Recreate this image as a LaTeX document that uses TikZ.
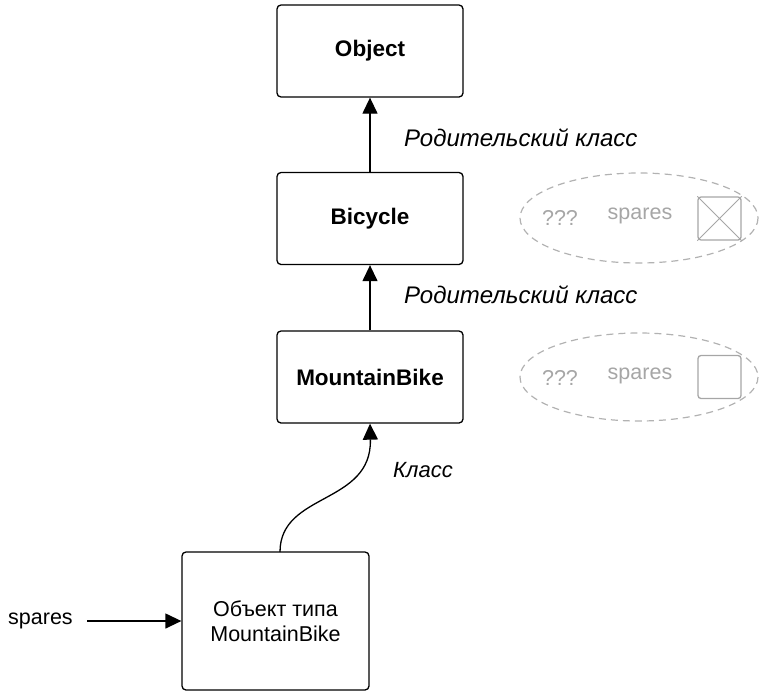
\documentclass[tikz,border=0pt]{standalone}
\usepackage{fontspec}
\setmainfont{Liberation Sans}
\usetikzlibrary{arrows.meta}
\begin{document}
\begin{tikzpicture}[x=1pt,y=-1pt,
  font=\fontsize{21.5}{25}\selectfont,
  classbox/.style={draw, line width=1.3pt, rounded corners=4pt, minimum width=186pt, minimum height=92pt, inner sep=0pt, align=center},
  title/.style={font=\fontsize{22.5}{26}\selectfont\bfseries},
  link/.style={line width=1.3pt, -{Triangle[length=16pt,width=15pt]}},
  lbl/.style={font=\fontsize{24}{28}\selectfont\itshape, anchor=west, inner sep=0pt},
  ghost/.style={draw=black!30, dashed, dash pattern=on 7pt off 5pt, line width=1.2pt},
  ghosttext/.style={text=black!35, inner sep=0pt},
  slot/.style={draw=black!35, line width=1.3pt, rounded corners=3pt, minimum width=43pt, minimum height=43pt, inner sep=0pt}]
\useasboundingbox (0,0) rectangle (759,694);

% class hierarchy
\node[classbox, title] (obj) at (370,51) {Object};
\node[classbox, title] (bike) at (370,218.5) {Bicycle};
\node[classbox, title] (mtb) at (370,377) {MountainBike};
\node[classbox, minimum width=187pt, minimum height=138pt] (inst) at (275.5,621) {Объект типа\\MountainBike};

% inheritance links
\draw[link] (bike.north) -- (obj.south);
\draw[link] (mtb.north) -- (bike.south);
\coordinate (instTop) at (280,552);
\draw[link] (instTop) .. controls (280,492) and (372,505) .. (mtb.south);

\node[lbl] (lbl1) at (404,138) {Родительский класс};
\node[lbl] (lbl2) at (404,295) {Родительский класс};
\node[lbl, font=\fontsize{22}{26}\selectfont\itshape] (lbl3) at (393,470) {Класс};

% reference from a variable
\node[anchor=west, inner sep=0pt] (var) at (8,621) {spares};
\coordinate (varEnd) at (87,621);
\draw[link] (varEnd) -- (inst.west);

% fields (dashed)
\draw[ghost] (639,218) ellipse [x radius=119, y radius=45];
\node[ghosttext] (q1) at (560,218) {???};
\node[ghosttext] (s1) at (640,216) {spares};
\node[slot] (box1) at (719.5,218.5) {};
\draw[black!35, line width=1pt] (box1.north west) -- (box1.south east)
  (box1.north east) -- (box1.south west);

\draw[ghost] (639,377) ellipse [x radius=119, y radius=44];
\node[ghosttext] (q2) at (560,378) {???};
\node[ghosttext] (s2) at (640,376) {spares};
\node[slot] (box2) at (719.5,377) {};
\end{tikzpicture}
\end{document}
